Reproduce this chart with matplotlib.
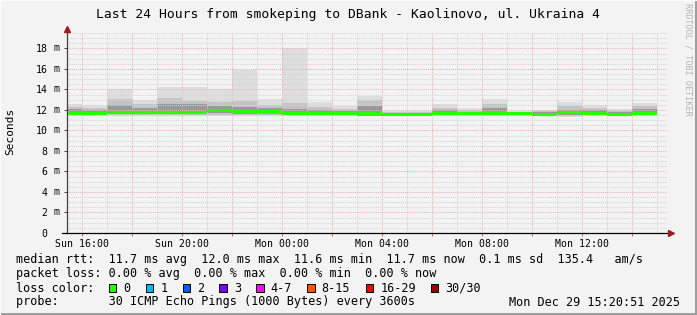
#!/usr/bin/env python3

import numpy as np
import matplotlib.pyplot as plt
from matplotlib.patches import Rectangle
from matplotlib.ticker import MultipleLocator

W, H = 697, 315
MONO = 'DejaVu Sans Mono'

# hourly buckets, hours since Sunday 00:00 (values in milliseconds)
hour_start = list(range(15, 39))
rtt_max = [12.55, 12.45, 14.0, 13.0, 14.2, 14.25, 14.0, 15.9, 13.1, 18.0, 12.75, 12.4,
           13.35, 11.9, 11.85, 12.55, 12.2, 13.05, 11.9, 12.0, 12.8, 12.45, 12.05, 12.7]
rtt_hi = [12.3, 12.2, 13.1, 12.55, 13.2, 12.9, 12.8, 12.9, 12.5, 12.7, 12.3, 12.1,
          12.95, 11.8, 11.75, 12.2, 11.95, 12.6, 11.8, 11.85, 12.35, 12.15, 11.9, 12.4]
rtt_q3 = [12.05, 12.0, 12.45, 12.2, 12.55, 12.6, 12.35, 12.3, 12.15, 12.1, 11.95, 11.9,
          12.4, 11.72, 11.7, 11.95, 11.8, 12.2, 11.75, 11.75, 12.0, 11.95, 11.8, 12.1]
rtt_med = [11.67, 11.67, 11.77, 11.77, 11.77, 11.77, 11.98, 11.85, 11.8, 11.65, 11.65, 11.65,
           11.6, 11.55, 11.55, 11.65, 11.65, 11.7, 11.65, 11.55, 11.78, 11.65, 11.55, 11.65]
rtt_q1 = [11.55, 11.55, 11.6, 11.6, 11.6, 11.6, 11.7, 11.6, 11.6, 11.55, 11.55, 11.55,
          11.5, 11.5, 11.5, 11.55, 11.55, 11.55, 11.55, 11.5, 11.55, 11.55, 11.5, 11.55]
rtt_lo = [11.48, 11.48, 11.5, 11.5, 11.5, 11.5, 11.55, 11.5, 11.5, 11.48, 11.48, 11.48,
          11.45, 11.45, 11.45, 11.48, 11.48, 11.48, 11.5, 11.45, 11.45, 11.48, 11.45, 11.48]
rtt_min = [11.38, 11.4, 11.4, 11.42, 11.4, 11.4, 11.45, 11.4, 11.42, 11.4, 11.4, 11.4,
           11.38, 11.4, 11.4, 11.4, 11.42, 11.4, 11.45, 11.4, 11.35, 11.4, 11.4, 11.4]

tick_hours = [16, 20, 24, 28, 32, 36]
tick_labels = ['Sun 16:00', 'Sun 20:00', 'Mon 00:00', 'Mon 04:00', 'Mon 08:00', 'Mon 12:00']
y_ticks = list(range(0, 19, 2))

loss_labels = ['0', '1', '2', '3', '4-7', '8-15', '16-29', '30/30']
loss_colors = ['#26ff00', '#00b8ff', '#0059ff', '#7e00ff', '#ff00ff', '#ff5500', '#ff0000', '#a10000']
loss_box_x = [108.7, 145.7, 182.7, 219.3, 256.3, 307.0, 365.7, 430.7]

legend_rows = [
    'median rtt:  11.7 ms avg  12.0 ms max  11.6 ms min  11.7 ms now  0.1 ms sd  135.4   am/s',
    'packet loss: 0.00 % avg  0.00 % max  0.00 % min  0.00 % now',
    'loss color:',
    'probe:       30 ICMP Echo Pings (1000 Bytes) every 3600s',
]
stamp = 'Mon Dec 29 15:20:51 2025'
title = 'Last 24 Hours from smokeping to DBank - Kaolinovo, ul. Ukraina 4'


def step(v):
    return np.append(v, v[-1])


def fx(x):
    return x / W


def fy(y):
    return 1 - y / H


def main():
    bg = '#f3f3f3'
    fig = plt.figure(figsize=(W / 100, H / 100), dpi=100, facecolor=bg)
    ax = fig.add_axes([fx(67), fy(233), 600 / W, 200 / H], facecolor=bg)

    x = np.append(hour_start, hour_start[-1] + 1)
    bands = [(rtt_min, rtt_max, '#dedede'), (rtt_lo, rtt_hi, '#c4c4c4'), (rtt_q1, rtt_q3, '#999999')]
    for lo, hi, col in bands:
        ax.fill_between(x, step(lo), step(hi), step='post', color=col, lw=0, zorder=1)
    med = np.array(rtt_med)
    ax.fill_between(x, step(med - 0.15), step(med + 0.15), step='post',
                    color=loss_colors[0], lw=0, zorder=3)

    ax.set_xlim(15.4, 39.4)
    ax.set_ylim(0, 19.5)

    ax.xaxis.set_major_locator(MultipleLocator(2))
    ax.xaxis.set_minor_locator(MultipleLocator(1))
    ax.yaxis.set_major_locator(MultipleLocator(2))
    ax.yaxis.set_minor_locator(MultipleLocator(0.5))
    dots = (0, (1, 1))
    ax.set_axisbelow('line')
    ax.grid(which='major', color='#eeb0b0', lw=0.75, linestyle=dots)
    ax.grid(which='minor', color='#d4d4d4', lw=0.75, linestyle=dots)

    ax.set_xticks(np.arange(16, 40, 2))
    ax.set_xticklabels([tick_labels[tick_hours.index(h)] if h in tick_hours else ''
                        for h in range(16, 40, 2)])
    ax.set_yticks(y_ticks)
    ax.set_yticklabels([str(v) for v in y_ticks])
    ax.tick_params(axis='x', which='major', length=2, width=0.7, color='#e06060',
                   direction='out', pad=2.5, labelsize=7.1, labelcolor='black')
    ax.tick_params(axis='y', which='major', length=2, width=0.7, color='#404040',
                   direction='out', pad=12.0, labelsize=7.1)
    ax.tick_params(which='minor', length=0)
    for lab in ax.get_xticklabels() + ax.get_yticklabels():
        lab.set_family(MONO)
    for v in y_ticks[1:]:
        ax.text(-13 / 600, v, 'm', transform=ax.get_yaxis_transform(), ha='left',
                va='center', fontsize=7.1, family=MONO)

    for s in ['top', 'right', 'left', 'bottom']:
        ax.spines[s].set_visible(False)
    ax.plot([0, 0], [0, 1.015], transform=ax.transAxes, color='#404040', lw=0.9,
            clip_on=False, zorder=5)
    ax.plot([-0.008, 1.005], [0, 0], transform=ax.transAxes, color='black', lw=0.9,
            clip_on=False, zorder=5)
    ax.plot([0], [1.022], transform=ax.transAxes, marker='^', ms=4.5, color='#9b1c1c',
            clip_on=False, zorder=6)
    ax.plot([1.0067], [0], transform=ax.transAxes, marker='>', ms=4.5, color='#9b1c1c',
            clip_on=False, zorder=6)

    fig.text(fx(348), fy(18), title, ha='center', va='baseline', fontsize=9.4, family=MONO)
    fig.text(fx(10), fy(131.5), 'Seconds', rotation=90, ha='center', va='center',
             fontsize=8, family=MONO)
    fig.text(fx(688), fy(59), 'RRDTOOL / TOBI OETIKER', rotation=270, ha='center',
             va='center', fontsize=6.1, family=MONO, color='#b4b4b4')

    for i, row in enumerate(legend_rows):
        fig.text(fx(16), fy(263.5 + 14 * i), row, ha='left', va='baseline',
                 fontsize=8.5, family=MONO)
    for bx, lab, col in zip(loss_box_x, loss_labels, loss_colors):
        fig.add_artist(Rectangle((fx(bx), fy(291.7)), 7.5 / W, 7.5 / H,
                                 transform=fig.transFigure, facecolor=col,
                                 edgecolor='black', lw=0.7))
        fig.text(fx(bx + 14.5), fy(291.5), lab, ha='left', va='baseline',
                 fontsize=8.5, family=MONO)
    fig.text(fx(680), fy(305.5), stamp, ha='right', va='baseline', fontsize=8.5, family=MONO)

    # 3d frame of the rrdtool canvas
    fig.add_artist(Rectangle((0, 0), 1, 2 / H, transform=fig.transFigure,
                             facecolor='#9e9e9e', lw=0))
    fig.add_artist(Rectangle((1 - 2 / W, 0), 2 / W, 1, transform=fig.transFigure,
                             facecolor='#9e9e9e', lw=0))
    fig.add_artist(Rectangle((0, 1 - 1 / H), 1, 1 / H, transform=fig.transFigure,
                             facecolor='#fcfcfc', lw=0))
    fig.add_artist(Rectangle((0, 0), 1 / W, 1, transform=fig.transFigure,
                             facecolor='#fcfcfc', lw=0))

    fig.savefig('out.png', dpi=100, facecolor=bg)
    return 0


if __name__ == "__main__":
    exit(main())
